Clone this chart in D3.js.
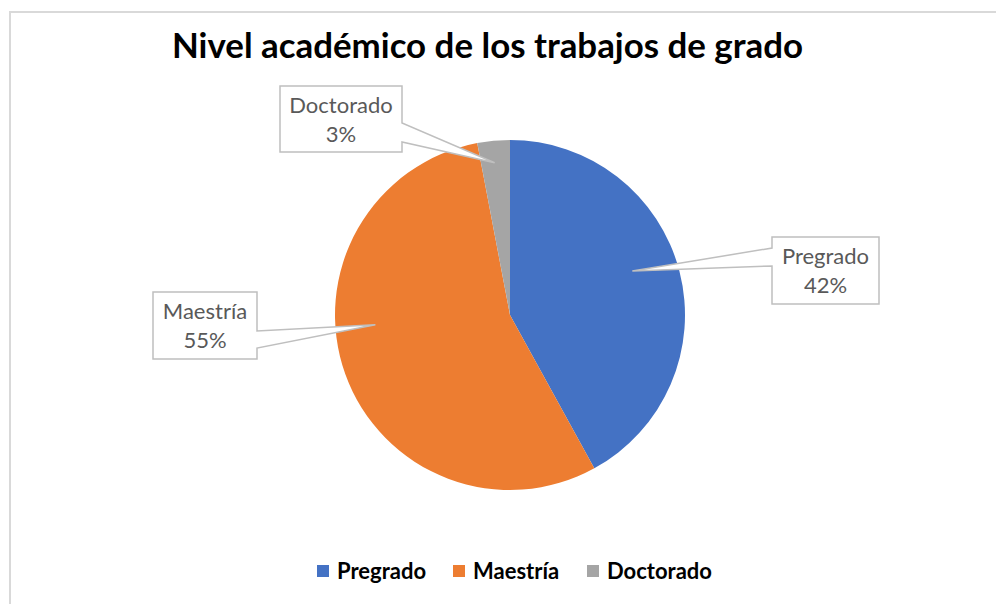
<!DOCTYPE html>
<html><head><meta charset="utf-8">
<script src="https://cdn.jsdelivr.net/npm/d3@7"></script>
<style>body{margin:0;background:#fff}svg{display:block}</style>
</head><body>
<svg id="c" width="996" height="604"></svg>
<script>
const categories = ["Pregrado", "Maestría", "Doctorado"];
const values = [42, 55, 3];
const labels = ["42%", "55%", "3%"];
const colors = ["#4472C4", "#ED7D31", "#A5A5A5"];
const title = "Nivel académico de los trabajos de grado";

const svg = d3.select("#c");
const cx = 510, cy = 315, R = 175;
const font = "Lato, 'Open Sans', sans-serif";

// chart border (only top/left visible)
svg.append("rect").attr("x", 10).attr("y", 12).attr("width", 1100).attr("height", 700)
  .attr("fill", "#fff").attr("stroke", "#d9d9d9").attr("stroke-width", 2);

svg.append("text").attr("x", 487.5).attr("y", 58).attr("text-anchor", "middle")
  .attr("font-family", font).attr("font-weight", 700).attr("font-size", 34)
  .attr("textLength", 631).attr("lengthAdjust", "spacingAndGlyphs")
  .attr("fill", "#000").text(title);

const pie = d3.pie().sort(null).value(d => d)(values);
const arc = d3.arc().innerRadius(0).outerRadius(R);
const g = svg.append("g").attr("transform", `translate(${cx},${cy})`);
g.selectAll("path").data(pie).join("path")
  .attr("d", arc).attr("fill", (d, i) => colors[i]);

// callout layout: box (x,y,w,h), side of pointer, base y-range, tip angle fraction & radius
const callouts = [
  {box: [772, 237, 107, 67], side: "left", b0: 248, b1: 266, tipA: 0.195, tipR: 130},
  {box: [153, 292, 104, 67], side: "right", b0: 331, b1: 348, tipA: 0.7385, tipR: 135},
  {box: [280, 86, 122, 66], side: "right", b0: 123, b1: 142, tipA: 0.984, tipR: 153}
];
callouts.forEach((c, i) => {
  const [x, y, w, h] = c.box;
  const a = c.tipA * 2 * Math.PI;
  const tx = cx + c.tipR * Math.sin(a), ty = cy - c.tipR * Math.cos(a);
  let p;
  if (c.side === "right") {
    p = `M${x},${y}H${x + w}V${c.b0}L${tx},${ty}L${x + w},${c.b1}V${y + h}H${x}Z`;
  } else {
    p = `M${x},${y}H${x + w}V${y + h}H${x}V${c.b1}L${tx},${ty}L${x},${c.b0}Z`;
  }
  svg.append("path").attr("d", p).attr("fill", "#fff")
    .attr("stroke", "#bfbfbf").attr("stroke-width", 1.5).attr("stroke-linejoin", "miter");
  const t = svg.append("text").attr("text-anchor", "middle")
    .attr("font-family", font).attr("font-size", 22).attr("fill", "#595959");
  t.append("tspan").attr("x", x + w / 2).attr("y", y + 27).text(categories[i]);
  t.append("tspan").attr("x", x + w / 2).attr("y", y + 56).text(labels[i]);
});

// legend
const legX = [317, 453, 587];
const lg = svg.append("g");
categories.forEach((c, i) => {
  lg.append("rect").attr("x", legX[i]).attr("y", 565).attr("width", 12).attr("height", 12)
    .attr("fill", colors[i]);
  lg.append("text").attr("x", legX[i] + 20).attr("y", 579)
    .attr("font-family", font).attr("font-weight", 700).attr("font-size", 22)
    .attr("fill", "#000").text(c);
});
</script>
</body></html>
